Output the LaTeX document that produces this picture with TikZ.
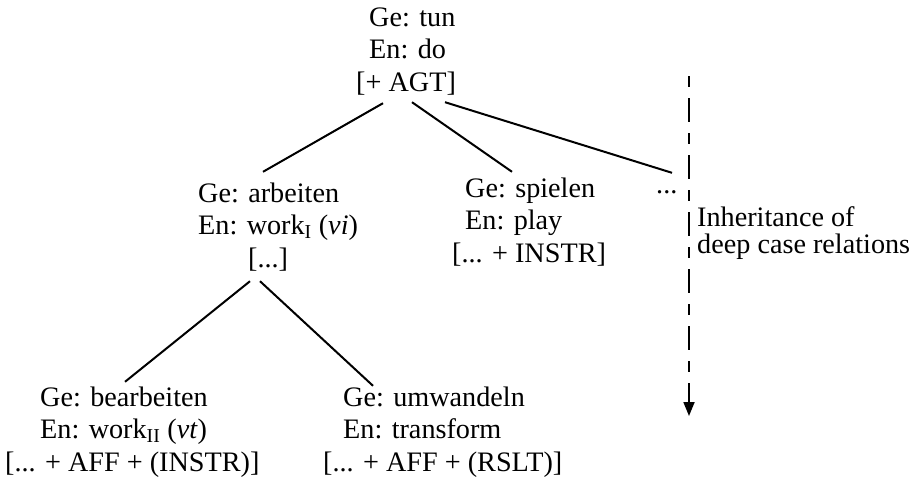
\documentclass[tikz,border=0pt]{standalone}
\usepackage{fontspec}
\setmainfont{Liberation Serif}
\usetikzlibrary{arrows.meta}
% one lexical entry: lines stacked, baseline of the node = first line
\newcommand\lexentry[1]{\begin{tabular}[t]{@{}l@{}}#1\end{tabular}}
\begin{document}
\begin{tikzpicture}[x=1pt,y=-1pt,
  lex/.style={anchor=base west, inner sep=0pt, font=\fontsize{28.2}{32.5}\selectfont},
  note/.style={anchor=base west, inner sep=0pt, font=\fontsize{28.2}{25}\selectfont},
  branch/.style={line width=2pt},
  inherit/.style={line width=1.8pt, dash pattern=on 11pt off 11pt on 24pt off 11pt,
    -{Triangle[length=14pt,width=11pt]}}]
\useasboundingbox (0,0) rectangle (920,480);

% verb entries
\node[lex] (tun) at (356,26)
  {\lexentry{\hspace*{13pt}Ge: tun\\ \hspace*{13pt}En: do\\ {[}+ AGT{]}}};
\node[lex] (arb) at (198,202)
  {\lexentry{Ge: arbeiten\\ En: work\textsubscript{I} (\textit{vi})\\ \hspace*{50pt}{[}...{]}}};
\node[lex] (spi) at (452,197)
  {\lexentry{\hspace*{13pt}Ge: spielen\\ \hspace*{13pt}En: play\\ {[}... + INSTR{]}}};
\node[lex] (more) at (656,193) {\lexentry{...}};
\node[lex] (bea) at (5,406)
  {\lexentry{\hspace*{35pt}Ge: bearbeiten\\ \hspace*{35pt}En: work\textsubscript{II} (\textit{vt})\\ {[}... + AFF + (INSTR){]}}};
\node[lex] (umw) at (323,406)
  {\lexentry{\hspace*{20pt}Ge: umwandeln\\ \hspace*{20pt}En: transform\\ {[}... + AFF + (RSLT){]}}};

% hierarchy
\draw[branch] ([shift={(27,2.25)}]tun.south west) -- ([shift={(65,-7.25)}]arb.north west);
\draw[branch] ([shift={(56,1.25)}]tun.south west) -- ([shift={(60,-2.25)}]spi.north west);
\draw[branch] ([shift={(89,1.25)}]tun.south west) -- ([shift={(16,2.75)}]more.north west);
\draw[branch] ([shift={(52,4.25)}]arb.south west) -- ([shift={(120,-1.25)}]bea.north west);
\draw[branch] ([shift={(62,4.25)}]arb.south west) -- ([shift={(50,2.75)}]umw.north west);

% inheritance direction
\coordinate (inhtop) at (689,76);
\coordinate (inhend) at (689,416);
\draw[inherit] (inhtop) -- (inhend);
\node[note] (inh) at (697,226) {\lexentry{Inheritance of\\ deep case relations}};
\end{tikzpicture}
\end{document}
